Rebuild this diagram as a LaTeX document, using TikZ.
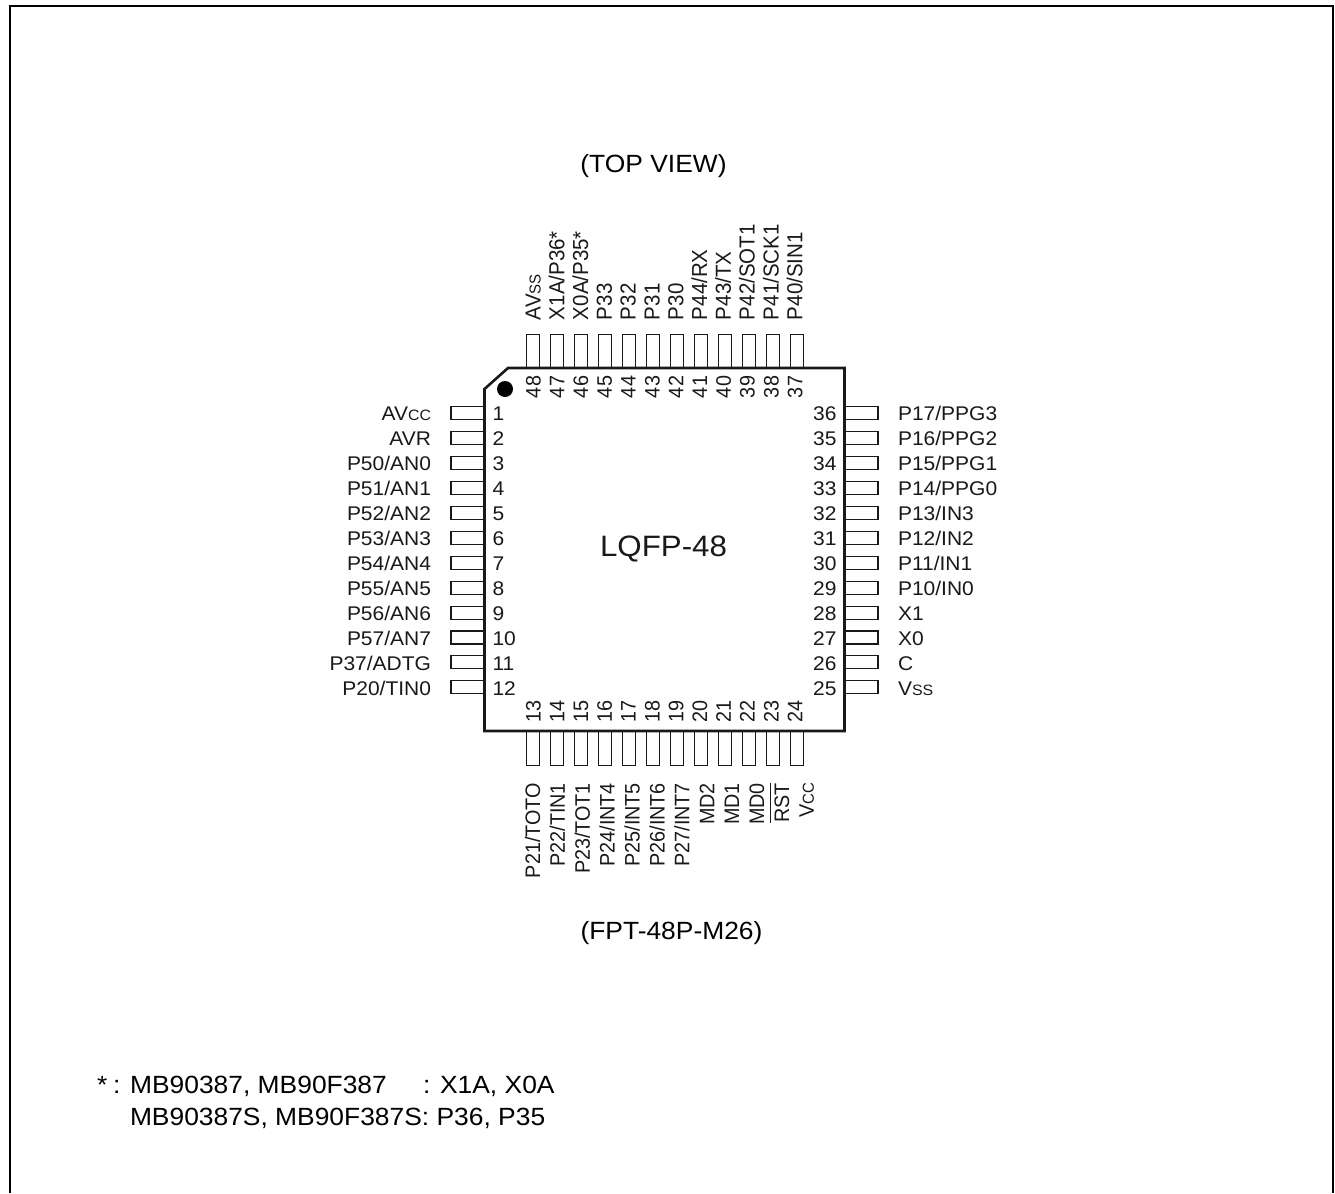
\documentclass[tikz,border=0pt]{standalone}
\usepackage{fontspec}
\setmainfont{Liberation Sans}
\newcommand{\lab}{\fontsize{19.8}{24}\selectfont}
\newcommand{\toplab}{\fontsize{20.5}{24}\selectfont}
\newcommand{\smc}[1]{{\fontsize{15}{18}\selectfont #1}}
\definecolor{ink}{gray}{0.1}
\tikzset{
  frameline/.style={draw=black,line width=2.4pt},
  chipbody/.style={draw=ink,line width=2.6pt,line join=miter},
  pinbox/.style={draw=ink,line width=1.1pt},
  txt/.style={transform shape,inner sep=0pt,outer sep=0pt,font=\lab,text=ink},
  vlab/.style={txt,rotate=90},
  title/.style={transform shape,inner sep=0pt,outer sep=0pt,font=\fontsize{24.9}{30}\selectfont,text=black},
}
\begin{document}
\begin{tikzpicture}[x=0.943396pt,y=-1pt,xscale=1.06]
\useasboundingbox (0,0) rectangle (1335,1193);
\draw[frameline] (10,1193) -- (10,6) -- (1333,6) -- (1333,1193);
% pins
\foreach \i in {0,...,11}{
  \pgfmathsetmacro{\px}{526.4+24.03*\i}
  \draw[pinbox] (\px,334.5) rectangle (\px+13,368);
  \draw[pinbox] (\px,731) rectangle (\px+13,765.5);
  \pgfmathsetmacro{\py}{406.6+24.93*\i}
  \draw[pinbox] (451,\py) rectangle (484.5,\py+13);
  \draw[pinbox] (844.5,\py) rectangle (878,\py+13);
}
% chip
\draw[chipbody,fill=white] (508,368) -- (844.5,368) -- (844.5,731) -- (484.5,731) -- (484.5,389) -- cycle;
\fill[black] (505,389) circle (8);
% left and right labels and numbers
\foreach \t [count=\n from 1] in {AV\smc{CC},AVR,P50/AN0,P51/AN1,P52/AN2,P53/AN3,P54/AN4,P55/AN5,P56/AN6,P57/AN7,P37/ADTG,P20/TIN0}{
  \pgfmathsetmacro{\yy}{420+25*(\n-1)}
  \node[txt,anchor=base east] (ll\n) at (431,\yy) {\t};
  \node[txt,anchor=base west] (ln\n) at (492.5,\yy) {\n};
}
\foreach \t [count=\n from 1] in {P17/PPG3,P16/PPG2,P15/PPG1,P14/PPG0,P13/IN3,P12/IN2,P11/IN1,P10/IN0,X1,X0,C,V\smc{SS}}{
  \pgfmathsetmacro{\yy}{420+25*(\n-1)}
  \pgfmathtruncatemacro{\pn}{37-\n}
  \node[txt,anchor=base west] (rl\n) at (898,\yy) {\t};
  \node[txt,anchor=base east] (rn\n) at (836.5,\yy) {\pn};
}
% top labels and numbers
\foreach \t [count=\n from 0] in {AV\smc{SS},X1A/P36*,X0A/P35*,P33,P32,P31,P30,P44/RX,P43/TX,P42/SOT1,P41/SCK1,P40/SIN1}{
  \pgfmathsetmacro{\xx}{533+23.8*\n+7.5}
  \pgfmathtruncatemacro{\pn}{48-\n}
  \node[vlab,font=\toplab,anchor=base west] (tl\n) at (\xx,320) {\t};
  \node[vlab,anchor=base west] (tn\n) at (\xx,398) {\pn};
}
% bottom numbers
\foreach \n in {0,...,11}{
  \pgfmathsetmacro{\xx}{533+23.8*\n+7.5}
  \pgfmathtruncatemacro{\pn}{13+\n}
  \node[vlab,anchor=base west] (bn\n) at (\xx,722) {\pn};
}
% bottom labels
\foreach \t [count=\n from 0] in {P21/TOTO,P22/TIN1,P23/TOT1,P24/INT4,P25/INT5,P26/INT6,P27/INT7,MD2,MD1,MD0,RST,V\smc{CC}}{
  \pgfmathsetmacro{\xx}{532.5+24.9*\n+7.5}
  \node[vlab,anchor=base east] (bl\n) at (\xx,783) {\t};
}
\draw[draw=ink,line width=1pt] ([xshift=-3.8pt]bl10.north west) -- ([xshift=-3.8pt]bl10.north east);
% titles
\node[title] (topview) at (653.5,166.5) {(TOP VIEW)};
\node[title] (pkg) at (671.5,933.5) {(FPT-48P-M26)};
\node[transform shape,inner sep=0pt,font=\fontsize{29.5}{36}\selectfont,text=ink] (name) at (663.5,548.5) {LQFP-48};
% note
\node[title,anchor=base west] (n1) at (97,1093) {*};
\node[title,anchor=base west] (n2) at (113,1093) {: MB90387, MB90F387};
\node[title,anchor=base west] (n3) at (423,1093) {: X1A, X0A};
\node[title,anchor=base west] (n4) at (130,1125) {MB90387S, MB90F387S: P36, P35};
\end{tikzpicture}
\end{document}
